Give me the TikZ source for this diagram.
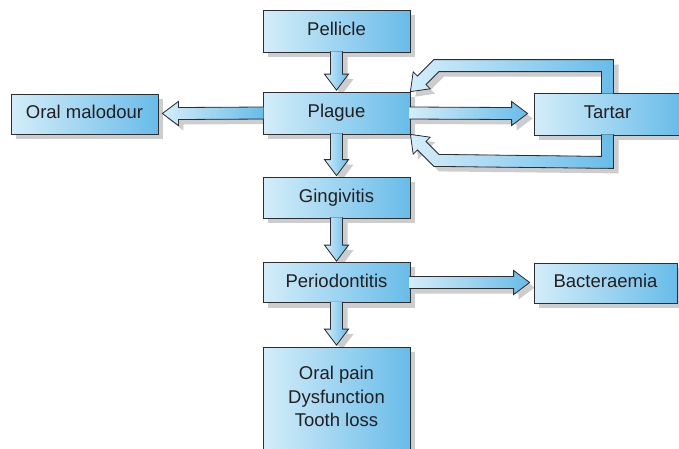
\documentclass[tikz,border=0pt]{standalone}
\usepackage{fontspec}
\setmainfont{Liberation Sans}
\usetikzlibrary{calc}
\pgfdeclarelayer{shadow}
\pgfsetlayers{shadow,main}

\definecolor{boxlight}{RGB}{212,237,249}
\definecolor{boxdark}{RGB}{104,188,233}
\definecolor{edgec}{RGB}{45,45,50}
\definecolor{shadowc}{RGB}{205,205,205}
\definecolor{textc}{RGB}{35,31,32}

\tikzset{
  stagefont/.style={font=\fontsize{18.5}{23.5}\selectfont, text=textc},
  stagebox/.style={stagefont, draw=edgec, line width=0.8pt,
    left color=boxlight, right color=boxdark, inner sep=0pt,
    minimum width=147pt, text height=13pt, text depth=4pt},
  outline/.style={draw=edgec, line width=0.8pt, line join=miter},
}

% a block shape: grey offset shadow behind everything, shaded body, open outline
\newcommand\blockshape[1]{%
  \begin{pgfonlayer}{shadow}
    \fill[shadowc, transform canvas={shift={(5pt,-5pt)}}] #1 -- cycle;
  \end{pgfonlayer}
  \fill[left color=boxlight, right color=boxdark] #1 -- cycle;
  \draw[outline] #1;
}
% block arrows: #1 = anchor on the source box, #2 = tip coordinate
\newcommand\downblock[2]{\blockshape{($(#1)+(-6,-1)$) -- ($(#2)+(-6,-16)$)
  -- ($(#2)+(-12,-16)$) -- (#2) -- ($(#2)+(12,-16)$) -- ($(#2)+(6,-16)$)
  -- ($(#1)+(6,-1)$)}}
\newcommand\rightblock[2]{\blockshape{($(#1)+(-1,-6)$) -- ($(#2)+(-16,-6)$)
  -- ($(#2)+(-16,-12)$) -- (#2) -- ($(#2)+(-16,12)$) -- ($(#2)+(-16,6)$)
  -- ($(#1)+(-1,6)$)}}
\newcommand\leftblock[2]{\blockshape{($(#1)+(1,-6)$) -- ($(#2)+(16,-6)$)
  -- ($(#2)+(16,-12)$) -- (#2) -- ($(#2)+(16,12)$) -- ($(#2)+(16,6)$)
  -- ($(#1)+(1,6)$)}}

\begin{document}
\begin{tikzpicture}[x=1pt, y=-1pt]
\useasboundingbox (0,0) rectangle (679,448);
\begin{pgfonlayer}{shadow}
  \fill[white] (0,0) rectangle (679,448);
\end{pgfonlayer}

% stages
\node[stagebox, minimum height=42pt] (pel) at (336.5,31) {Pellicle};
\node[stagebox, minimum height=42pt] (pla) at (336.5,113) {Plague};
\node[stagebox, minimum height=41pt] (gin) at (336.5,197.5) {Gingivitis};
\node[stagebox, minimum height=40pt] (per) at (336.5,282.5) {Periodontitis};
\node[stagebox, minimum height=108pt] (out) at (336.5,401) {};
\node[stagefont, align=center, inner sep=0pt] (outtxt) at ($(out.north)+(0,50)$)
  {Oral pain\\Dysfunction\\Tooth loss};
\node[stagebox, minimum height=40pt] (mal) at (84.5,114) {Oral malodour};
\node[stagebox, minimum height=42pt] (tar) at (607.5,114) {Tartar};
\node[stagebox, minimum height=40pt, minimum width=143pt] (bac) at (605.5,283) {Bacteraemia};

\begin{pgfonlayer}{shadow}
  \foreach \n in {pel,pla,gin,per,out,mal,tar,bac}
    \fill[shadowc] ([shift={(5,5)}]\n.south west) rectangle ([shift={(5,5)}]\n.north east);
\end{pgfonlayer}

% arrow tips
\coordinate (tPla) at ($(pla.north)+(0,-1.5)$);
\coordinate (tGin) at ($(gin.north)+(0,-1)$);
\coordinate (tPer) at ($(per.north)+(0,-1)$);
\coordinate (tOut) at ($(out.north)+(0,-1.5)$);
\coordinate (tMal) at ($(mal.east |- pla.east)+(4,0.5)$);
\coordinate (tTar) at ($(tar.west |- pla.east)+(-6,0.5)$);
\coordinate (tBac) at ($(bac.west |- per.east)+(-4,0)$);

% main chain
\downblock{pel.south}{tPla}
\downblock{pla.south}{tGin}
\downblock{gin.south}{tPer}
\downblock{per.south}{tOut}

% side branches
\leftblock{pla.west}{tMal}
\rightblock{pla.east}{tTar}
\rightblock{per.east}{tBac}

% tartar feeding back into plague, above and below
\coordinate (T) at (pla.north east);
\coordinate (S) at (tar.north);
\coordinate (B) at (pla.south east);
\coordinate (R) at (tar.south);
\blockshape{($(S)+(6,1)$) -- ($(S)+(6,-33)$) -- ($(T)+(23.51,-32)$)
  -- ($(T)+(7.07,-15.55)$) -- ($(T)+(2.82,-19.8)$) -- (T)
  -- ($(T)+(19.8,-2.82)$) -- ($(T)+(15.56,-7.06)$) -- ($(T)+(28.49,-20)$)
  -- ($(S)+(-6,-21)$) -- ($(S)+(-6,1)$)}
\blockshape{($(R)+(6,-1)$) -- ($(R)+(6,33)$) -- ($(B)+(23.51,32)$)
  -- ($(B)+(7.07,15.55)$) -- ($(B)+(2.82,19.8)$) -- (B)
  -- ($(B)+(19.8,2.82)$) -- ($(B)+(15.56,7.06)$) -- ($(B)+(28.49,20)$)
  -- ($(R)+(-6,21)$) -- ($(R)+(-6,-1)$)}
\end{tikzpicture}
\end{document}
